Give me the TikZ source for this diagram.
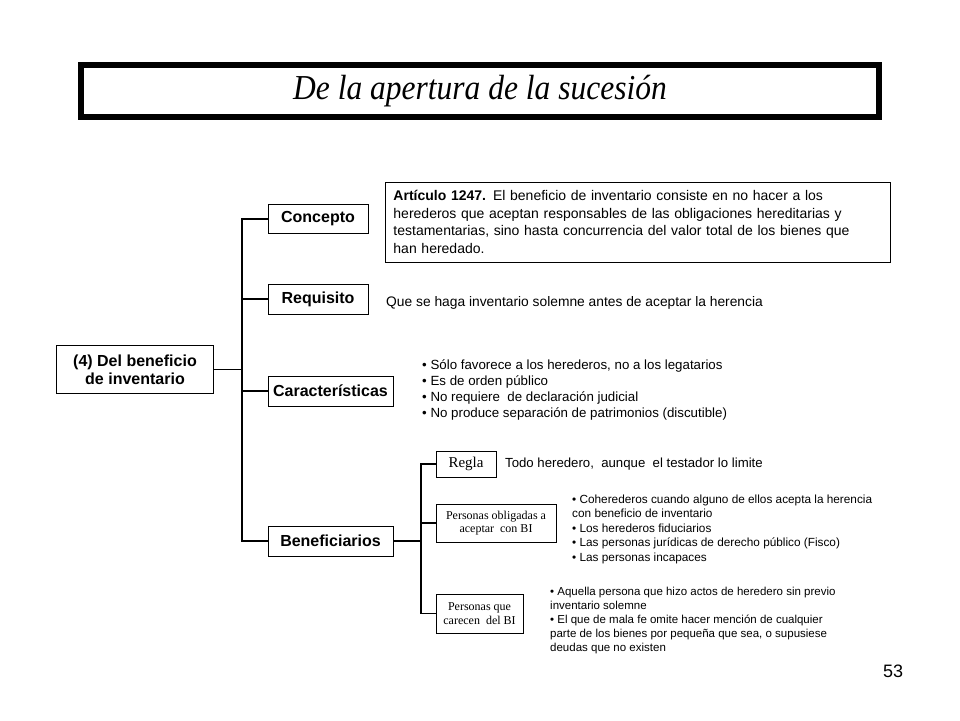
\documentclass[tikz,border=0pt]{standalone}
\usepackage{fontspec}
\setmainfont{Liberation Sans}
\newfontfamily\timesfont{Liberation Serif}
\usetikzlibrary{positioning}

\begin{document}
\begin{tikzpicture}[x=1pt, y=-1pt,
    branch/.style={rectangle, draw, line width=0.9pt, inner sep=0pt, align=center, font=\fontsize{16}{18}\selectfont\bfseries},
    subbranch/.style={rectangle, draw, line width=0.9pt, inner sep=0pt, align=center, font=\timesfont\fontsize{12}{13.5}\selectfont},
    info/.style={inner sep=0pt, anchor=west, align=left, font=\fontsize{13.3}{16}\selectfont},
    smallinfo/.style={inner sep=0pt, anchor=west, align=left, font=\fontsize{11.8}{14.5}\selectfont},
    link/.style={line width=1.3pt}
]
    \useasboundingbox (0,0) rectangle (960,720);

    % title
    \node[draw, line width=6pt, minimum width=798pt, minimum height=52pt, inner sep=0pt,
          font=\timesfont\itshape\fontsize{35}{38}\selectfont] (title) at (480,91)
        {\scalebox{0.9}[1]{De la apertura de la sucesi\'on}};

    % main tree
    \node[branch, minimum width=157pt, minimum height=48pt] (root) at (135,369.5) {(4) Del beneficio\\de inventario};
    \node[branch, minimum width=100pt, minimum height=29pt] (conc) at (318,219) {Concepto};
    \node[branch, minimum width=100pt, minimum height=30pt] (req) at (318,299) {Requisito};
    \node[branch, minimum width=125pt, minimum height=30pt] (car) at (330.5,391) {Caracter\'isticas};
    \node[branch, minimum width=125pt, minimum height=30pt] (ben) at (330.5,541) {Beneficiarios};

    \coordinate (trunk) at (242,369.5);
    \draw[link] (root.east) -- (trunk);
    \draw[link] (conc.west) -| (trunk) |- (ben.west);
    \draw[link] (req.west) -- (req.west -| trunk);
    \draw[link] (car.west) -- (car.west -| trunk);

    % concepto
    \node[draw, line width=0.9pt, text width=489pt, minimum height=80pt, inner xsep=8pt, inner ysep=4pt,
          anchor=west, align=left, font=\fontsize{14}{17.5}\selectfont] (art) at (385,222)
        {\textbf{Art\'iculo 1247.} El beneficio de inventario consiste en no hacer a los\\
         herederos que aceptan responsables de las obligaciones hereditarias y\\
         testamentarias, sino hasta concurrencia del valor total de los bienes que\\
         han heredado.};

    % requisito
    \node[info, font=\fontsize{13.8}{16}\selectfont] (reqtxt) at (386,303) {Que se haga inventario solemne antes de aceptar la herencia};

    % caracteristicas
    \node[info] (cartxt) at (422,389.5)
        {• S\'olo favorece a los herederos, no a los legatarios\\
         • Es de orden p\'ublico\\
         • No requiere \ de declaraci\'on judicial\\
         • No produce separaci\'on de patrimonios (discutible)};

    % beneficiarios
    \node[subbranch, minimum width=60pt, minimum height=26pt, font=\timesfont\fontsize{15}{16}\selectfont] (regla) at (466,464) {Regla};
    \node[subbranch, minimum width=120pt, minimum height=38pt] (oblig) at (496,523) {Personas obligadas a\\aceptar \ con BI};
    \node[subbranch, minimum width=87pt, minimum height=39pt] (carec) at (479.5,613.5) {Personas que\\carecen \ del BI};

    \coordinate (subtrunk) at (421,541);
    \draw[link] (ben.east) -- (subtrunk);
    \draw[link] (regla.west) -| (subtrunk) |- (carec.west);
    \draw[link] (oblig.west) -- (oblig.west -| subtrunk);

    \node[info, font=\fontsize{13.2}{16}\selectfont] (reglatxt) at (505,464) {Todo heredero, \ aunque \ el testador lo limite};
    \node[smallinfo] (obligtxt) at (572,529)
        {• Coherederos cuando alguno de ellos acepta la herencia\\
         con beneficio de inventario\\
         • Los herederos fiduciarios\\
         • Las personas jur\'idicas de derecho p\'ublico (Fisco)\\
         • Las personas incapaces};
    \node[smallinfo, font=\fontsize{11.5}{14}\selectfont] (carectxt) at (550,621)
        {• Aquella persona que hizo actos de heredero sin previo\\
         inventario solemne\\
         • El que de mala fe omite hacer menci\'on de cualquier\\
         parte de los bienes por peque\~na que sea, o supusiese\\
         deudas que no existen};

    % page number
    \node[inner sep=0pt, font=\fontsize{18}{20}\selectfont] (page) at (893,671) {53};
\end{tikzpicture}
\end{document}
